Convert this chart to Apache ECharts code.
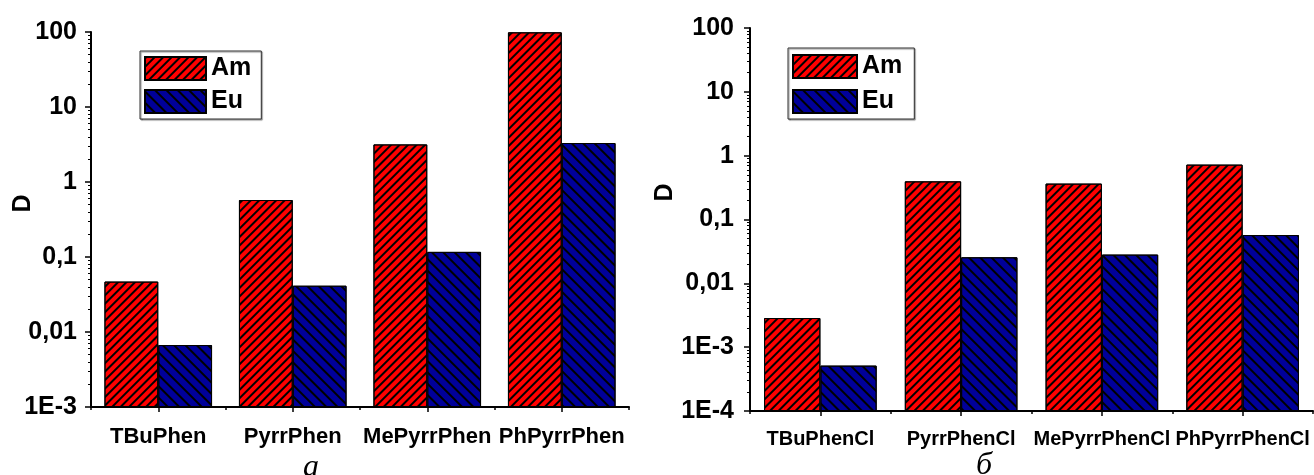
<!DOCTYPE html>
<html>
<head>
<meta charset="utf-8">
<script src="https://cdn.jsdelivr.net/npm/echarts@6/dist/echarts.min.js"></script>
<style>
html,body{margin:0;padding:0;background:#fff;}
#chart{width:1314px;height:475px;}
</style>
</head>
<body>
<div id="chart"></div>
<script>
// ---- data ----
const categoriesA = ['TBuPhen', 'PyrrPhen', 'MePyrrPhen', 'PhPyrrPhen'];
const amA = [0.047, 0.575, 3.17, 99];
const euA = [0.0067, 0.0414, 0.117, 3.31];

const categoriesB = ['TBuPhenCl', 'PyrrPhenCl', 'MePyrrPhenCl', 'PhPyrrPhenCl'];
const amB = [0.00286, 0.396, 0.365, 0.724];
const euB = [0.000514, 0.0256, 0.0282, 0.0571];

const yTicksA = [0.001, 0.01, 0.1, 1, 10, 100];
const yLabelsA = ['1E-3', '0,01', '0,1', '1', '10', '100'];
const yTicksB = [0.0001, 0.001, 0.01, 0.1, 1, 10, 100];
const yLabelsB = ['1E-4', '1E-3', '0,01', '0,1', '1', '10', '100'];

const panelLetters = ['а', 'б'];
const seriesNames = ['Am', 'Eu'];

// ---- helpers ----
function minorTicks(ticks) {
  const out = [];
  for (let i = 0; i < ticks.length - 1; i++) {
    for (let k = 2; k <= 9; k++) out.push(k * ticks[i]);
  }
  return out;
}
function labelFor(ticks, labels) {
  return function (v) {
    const e = Math.round(Math.log10(v));
    for (let i = 0; i < ticks.length; i++) {
      if (Math.round(Math.log10(ticks[i])) === e) return labels[i];
    }
    return '';
  };
}

const SANS = "'Liberation Sans', Arial, sans-serif";
const AXIS_COLOR = '#000';
const decalAm = { symbol: 'rect', symbolSize: 1, color: '#000', dashArrayX: [1, 0], dashArrayY: [1.1, 4], rotation: -Math.PI / 4 };
const decalEu = { symbol: 'rect', symbolSize: 1, color: '#000', dashArrayX: [1, 0], dashArrayY: [1.1, 5.4], rotation: Math.PI / 4 };
const RED = '#ff0000';
const BLUE = '#000099';

function xAxes(grid, cats, fontSize, margin) {
  return [
    {
      gridIndex: grid, type: 'category', data: cats, position: 'bottom',
      axisLine: { show: true, lineStyle: { color: AXIS_COLOR, width: 2 } },
      axisTick: { show: true, alignWithLabel: true, length: 5, lineStyle: { color: AXIS_COLOR, width: 1.5 } },
      axisLabel: { interval: 0, fontSize: fontSize, fontWeight: 'bold', fontFamily: SANS, color: '#000', margin: margin },
      splitLine: { show: false }
    },
    {
      gridIndex: grid, type: 'category', data: cats, position: 'bottom',
      axisLine: { show: false },
      axisTick: { show: true, length: 3, lineStyle: { color: AXIS_COLOR, width: 1.5 } },
      axisLabel: { show: false },
      splitLine: { show: false }
    }
  ];
}
function yAxes(grid, ticks, labels, margin, nameGap, namePad) {
  const min = ticks[0], max = ticks[ticks.length - 1];
  return [
    {
      gridIndex: grid, type: 'log', logBase: 10, min: min, max: max, startValue: min,
      splitNumber: ticks.length - 1, position: 'left',
      axisLine: { show: true, lineStyle: { color: AXIS_COLOR, width: 2 } },
      axisTick: { show: true, length: 6, customValues: ticks, lineStyle: { color: AXIS_COLOR, width: 1.5 } },
      axisLabel: { customValues: ticks, formatter: labelFor(ticks, labels), fontSize: 25, fontWeight: 'bold', fontFamily: SANS, color: '#000', margin: margin },
      splitLine: { show: false },
      name: 'D', nameLocation: 'middle', nameRotate: 90, nameGap: nameGap, nameMoveOverlap: false,
      nameTextStyle: { fontSize: 25, fontWeight: 'bold', fontFamily: SANS, color: '#000', padding: [0, 0, 0, namePad] }
    },
    {
      gridIndex: grid, type: 'log', logBase: 10, min: min, max: max, position: 'left',
      axisLine: { show: false },
      axisTick: { show: true, length: 3, customValues: minorTicks(ticks), lineStyle: { color: AXIS_COLOR, width: 1 } },
      axisLabel: { show: false },
      splitLine: { show: false }
    }
  ];
}
function bars(xi, am, eu) {
  return [
    {
      name: seriesNames[0], type: 'bar', xAxisIndex: xi, yAxisIndex: xi, data: am,
      barGap: '0%', barCategoryGap: '20%',
      itemStyle: { color: RED, borderColor: '#000', borderWidth: 1, decal: decalAm }
    },
    {
      name: seriesNames[1], type: 'bar', xAxisIndex: xi, yAxisIndex: xi, data: eu,
      barGap: '0%', barCategoryGap: '20%',
      itemStyle: { color: BLUE, borderColor: '#000', borderWidth: 1, decal: decalEu }
    }
  ];
}
function legend(left, top, w, h, gap, pad) {
  return {
    data: seriesNames, orient: 'vertical', left: left, top: top,
    itemWidth: w, itemHeight: h, itemGap: gap, icon: 'rect',
    padding: pad, borderColor: '#333', borderWidth: 1,
    shadowColor: 'rgba(0,0,0,0.45)', shadowOffsetX: 1, shadowOffsetY: 1, shadowBlur: 1,
    backgroundColor: '#fff',
    selectedMode: false,
    textStyle: { fontSize: 25, fontWeight: 'bold', fontFamily: SANS, color: '#000', lineHeight: h }
  };
}

const chart = echarts.init(document.getElementById('chart'), null, { renderer: 'canvas' });
chart.setOption({
  animation: false,
  backgroundColor: '#fff',
  title: [
    { text: panelLetters[0], left: 311, top: 452, textAlign: 'center', padding: 0,
      textStyle: { fontSize: 32, fontStyle: 'italic', fontWeight: 'normal', fontFamily: "'Liberation Serif', 'Times New Roman', serif", color: '#000' } },
    { text: panelLetters[1], left: 984, top: 450, textAlign: 'center', padding: 0,
      textStyle: { fontSize: 32, fontStyle: 'italic', fontWeight: 'normal', fontFamily: "'Liberation Serif', 'Times New Roman', serif", color: '#000' } }
  ],
  legend: [
    legend(140, 51, 61, 23, 8, [5, 10, 5, 4]),
    legend(788, 48, 64, 23, 10, [6, 12, 5, 4])
  ],
  grid: [
    { left: 91, top: 32, width: 538, height: 375, outerBoundsMode: 'none' },
    { left: 750, top: 28, width: 563, height: 383, outerBoundsMode: 'none' }
  ],
  xAxis: [].concat(xAxes(0, categoriesA, 22, 19), xAxes(1, categoriesB, 20, 18)),
  yAxis: [].concat(yAxes(0, yTicksA, yLabelsA, 14, 55, 32), yAxes(1, yTicksB, yLabelsB, 16, 72, 54)),
  series: [].concat(bars(0, amA, euA), bars(2, amB, euB))
});
</script>
</body>
</html>
